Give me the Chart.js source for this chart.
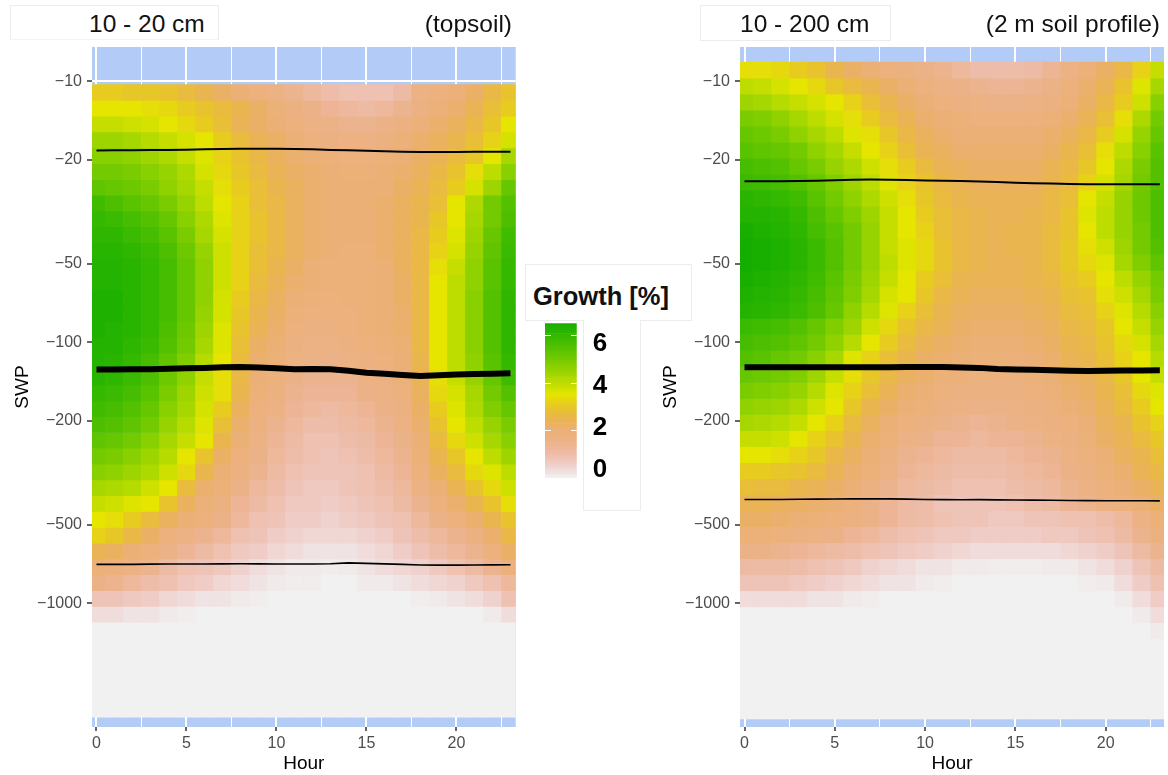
<!DOCTYPE html>
<html lang="en">
  <head>
    <meta charset="UTF-8" />
    <title>Growth by hour and SWP</title>
    <script src="https://cdn.jsdelivr.net/npm/chart.js"></script>
    <style>
      html, body { margin: 0; padding: 0; background: #fff; }
      body { position: relative; width: 1168px; height: 775px; overflow: hidden; font-family: "Liberation Sans", sans-serif; }
      canvas { position: absolute; top: 0; filter: blur(0.4px); }
      .box { position: absolute; background: #fff; border: 1px solid #ececec; box-sizing: border-box; }
      .label { position: absolute; color: #111; font-size: 24.5px; line-height: 30px; top: 9px; white-space: nowrap; }
    </style>
  </head>
  <body>
    <canvas id="leftChart" width="530" height="775" style="left: 0"></canvas>
    <canvas id="rightChart" width="520" height="775" style="left: 648px"></canvas>

    <div class="box" style="left: 10px; top: 5px; width: 209px; height: 35px; border-bottom-color: #f3f3f3"></div>
    <div class="box" style="left: 700px; top: 5px; width: 191px; height: 36px"></div>
    <div class="label" style="left: 89px">10 - 20 cm</div>
    <div class="label" style="right: 656px">(topsoil)</div>
    <div class="label" style="left: 740px">10 - 200 cm</div>
    <div class="label" style="right: 8px">(2 m soil profile)</div>

    <div class="box" style="left: 525px; top: 264px; width: 167px; height: 57px"></div>
    <div class="label" style="left: 533px; top: 281px; font-size: 25.5px; font-weight: bold">Growth [%]</div>
    <div class="box" style="left: 583px; top: 320px; width: 58px; height: 191px; border-top: 0"></div>
    <canvas id="legendChart" width="100" height="775" style="left: 545px"></canvas>

    <script>
      const hours = [0, 1, 2, 3, 4, 5, 6, 7, 8, 9, 10, 11, 12, 13, 14, 15, 16, 17, 18, 19, 20, 21, 22, 23];
      const swpTicks = [10, 20, 50, 100, 200, 500, 1000];
      const hourTicks = [0, 2.5, 5, 7.5, 10, 12.5, 15, 17.5, 20, 22.5];

      // SWP edges of the rows (sign dropped, log axis), top row first
      const topsoilEdges = [10.3, 11.83, 13.61, 15.64, 17.98, 20.67, 23.77, 27.32, 31.4, 36.1, 41.5, 47.7, 54.9, 63.1, 72.5, 83.4, 95.9, 110.2, 126.7, 145.6, 167.4, 192.5, 221.3, 254.4, 292.4, 336.2, 386.5, 444.4, 510.9, 587.2, 675.2, 776.2, 892.4, 1025.9, 1179.3, 1356, 1559, 1792, 2060, 2368, 2723];
      const profileEdges = [8.44, 9.72, 11.19, 12.89, 14.85, 17.1, 19.7, 22.68, 26.13, 30.09, 34.66, 39.92, 45.98, 52.97, 61, 70.26, 80.93, 93.2, 107.4, 123.6, 142.4, 164, 188.9, 217.6, 250.6, 288.6, 332.5, 382.9, 441.1, 508, 585.2, 674, 776.2, 894, 1030, 1186, 1366, 1573, 1812, 2087, 2404, 2769];

      // growth [%], one row per SWP bin, hours 0-23
      const topsoilGrowth = [
        [3.1,3.1,3.0,3.0,2.9,2.7,2.5,2.2,2.0,1.8,1.6,1.4,1.2,1.0,0.9,0.9,0.9,1.1,1.6,1.8,1.9,2.2,2.6,2.9],
        [3.5,3.5,3.5,3.4,3.3,3.1,2.9,2.7,2.5,2.2,1.9,1.7,1.5,1.3,1.2,1.1,1.2,1.4,1.7,1.9,2.1,2.4,2.8,3.1],
        [3.9,3.9,3.8,3.7,3.5,3.3,3.1,2.8,2.4,2.2,2.0,1.8,1.6,1.5,1.4,1.4,1.5,1.7,1.9,2.1,2.3,2.6,3.0,3.5],
        [4.4,4.4,4.3,4.1,3.9,3.7,3.5,3.1,2.7,2.4,2.2,2.0,1.8,1.7,1.6,1.6,1.7,1.9,2.1,2.3,2.5,2.8,3.2,3.7],
        [4.7,4.7,4.6,4.4,4.2,3.9,3.6,3.2,2.9,2.6,2.3,2.1,2.0,1.9,1.8,1.8,1.9,2.0,2.2,2.4,2.7,3.0,3.5,4.3],
        [5.0,5.0,4.9,4.7,4.5,4.2,3.7,3.3,3.0,2.7,2.4,2.2,2.1,2.0,1.9,1.9,2.0,2.1,2.3,2.6,2.9,3.4,4.0,4.7],
        [5.3,5.2,5.1,4.9,4.6,4.3,3.9,3.4,3.1,2.8,2.5,2.3,2.1,2.0,2.0,2.0,2.0,2.2,2.4,2.7,3.1,3.7,4.4,5.2],
        [5.8,5.6,5.4,5.2,4.9,4.5,4.0,3.5,3.2,2.8,2.6,2.3,2.1,2.0,2.0,2.0,2.1,2.3,2.5,2.8,3.5,4.2,5.0,5.5],
        [6.0,5.9,5.7,5.5,5.2,4.7,4.2,3.6,3.2,2.9,2.6,2.3,2.1,2.0,2.0,2.0,2.1,2.3,2.5,3.0,3.5,4.3,5.0,5.6],
        [6.1,6.1,5.9,5.7,5.4,4.9,4.3,3.7,3.2,2.9,2.6,2.3,2.1,2.0,2.0,2.0,2.1,2.3,2.6,3.1,3.6,4.4,5.2,5.8],
        [6.2,6.2,6.1,5.9,5.6,5.1,4.5,3.8,3.2,2.8,2.6,2.3,2.1,2.0,1.9,1.9,2.1,2.3,2.6,3.2,3.7,4.5,5.3,5.9],
        [6.3,6.3,6.2,6.0,5.7,5.2,4.6,3.8,3.2,2.8,2.5,2.2,2.0,1.9,1.9,1.9,2.0,2.3,2.6,3.4,3.9,4.6,5.4,6.0],
        [6.3,6.3,6.2,6.0,5.7,5.2,4.6,3.8,3.2,2.7,2.4,2.1,2.0,1.9,1.9,1.9,2.0,2.2,2.6,3.5,4.0,4.6,5.4,6.0],
        [6.4,6.4,6.2,6.0,5.7,5.2,4.6,3.7,3.1,2.6,2.3,2.0,1.9,1.8,1.9,1.9,2.0,2.2,2.6,3.5,4.0,4.7,5.5,6.1],
        [6.4,6.4,6.2,6.0,5.7,5.2,4.5,3.7,3.0,2.5,2.2,1.9,1.8,1.8,1.8,1.9,2.0,2.1,2.6,3.5,4.0,4.7,5.5,6.1],
        [6.4,6.3,6.2,6.0,5.6,5.1,4.4,3.6,2.9,2.4,2.1,1.8,1.7,1.7,1.8,1.9,2.0,2.1,2.6,3.5,4.0,4.7,5.5,6.1],
        [6.3,6.3,6.1,5.9,5.5,5.0,4.3,3.6,2.8,2.2,2.0,1.7,1.6,1.6,1.7,1.8,1.9,2.0,2.6,3.5,4.0,4.7,5.5,6.1],
        [6.3,6.2,6.0,5.7,5.3,4.8,4.1,3.5,2.7,2.1,1.9,1.6,1.5,1.5,1.6,1.7,1.8,2.0,2.5,3.5,4.0,4.6,5.4,6.0],
        [6.2,6.1,5.9,5.6,5.1,4.6,3.9,3.4,2.6,2.0,1.8,1.5,1.4,1.4,1.4,1.6,1.7,1.9,2.4,3.4,3.9,4.5,5.2,5.8],
        [6.0,5.9,5.7,5.4,4.9,4.4,3.8,3.4,2.5,1.9,1.7,1.4,1.3,1.3,1.3,1.5,1.6,1.8,2.3,3.3,3.7,4.3,5.0,5.5],
        [5.8,5.7,5.5,5.2,4.7,4.3,3.7,3.1,2.3,1.8,1.6,1.3,1.2,1.1,1.2,1.3,1.5,1.7,2.2,3.1,3.6,4.2,4.8,5.2],
        [5.6,5.5,5.3,5.0,4.5,4.1,3.6,2.8,2.1,1.7,1.4,1.2,1.0,1.0,1.1,1.2,1.4,1.6,2.1,2.9,3.5,4.0,4.5,4.9],
        [5.3,5.2,5.0,4.7,4.3,3.9,3.5,2.5,2.0,1.6,1.3,1.1,0.9,0.9,1.0,1.1,1.3,1.5,2.0,2.7,3.3,3.8,4.3,4.7],
        [5.0,4.9,4.7,4.4,4.1,3.5,2.9,2.2,1.8,1.5,1.2,1.0,0.9,0.8,0.9,1.0,1.2,1.4,1.9,2.5,3.0,3.5,4.0,4.4],
        [4.7,4.6,4.4,4.2,3.8,3.3,2.5,2.0,1.7,1.4,1.1,0.9,0.8,0.8,0.8,0.9,1.1,1.3,1.8,2.3,2.7,3.3,3.6,4.0],
        [4.3,4.2,4.1,3.8,3.5,2.7,2.1,1.9,1.5,1.2,1.0,0.8,0.7,0.7,0.8,0.9,1.0,1.2,1.6,2.0,2.4,2.9,3.3,3.8],
        [3.9,3.8,3.6,3.5,2.9,2.3,1.9,1.7,1.3,1.1,0.9,0.7,0.7,0.6,0.7,0.8,0.9,1.1,1.4,1.8,2.1,2.5,2.9,3.4],
        [3.5,3.4,3.1,2.7,2.3,2.0,1.8,1.5,1.2,0.9,0.8,0.6,0.6,0.5,0.6,0.7,0.8,0.9,1.2,1.5,1.8,2.1,2.5,2.9],
        [3.2,3.0,2.6,2.2,1.8,1.6,1.4,1.2,0.9,0.8,0.6,0.5,0.4,0.4,0.4,0.5,0.6,0.8,1.0,1.2,1.4,1.7,2.1,2.6],
        [2.4,2.3,2.0,1.8,1.5,1.3,1.1,0.9,0.7,0.6,0.4,0.3,0.2,0.2,0.2,0.3,0.4,0.6,0.8,1.0,1.2,1.4,1.8,2.2],
        [1.9,1.8,1.6,1.4,1.1,0.9,0.8,0.7,0.5,0.3,0.2,0.1,0.1,0.05,0.1,0.2,0.3,0.4,0.5,0.7,0.9,1.1,1.4,1.8],
        [1.5,1.4,1.2,1.0,0.9,0.7,0.6,0.4,0.3,0.2,0.1,0.05,0.05,0,0,0.1,0.1,0.2,0.3,0.4,0.5,0.7,0.9,1.2],
        [0.8,0.8,0.7,0.6,0.4,0.3,0.2,0.2,0.1,0.05,0,0,0,0,0,0,0,0,0.05,0.1,0.2,0.3,0.5,0.9],
        [0.3,0.3,0.2,0.2,0.1,0.05,0,0,0,0,0,0,0,0,0,0,0,0,0,0,0,0,0.1,0.3],
        [0,0,0,0,0,0,0,0,0,0,0,0,0,0,0,0,0,0,0,0,0,0,0,0],
        [0,0,0,0,0,0,0,0,0,0,0,0,0,0,0,0,0,0,0,0,0,0,0,0],
        [0,0,0,0,0,0,0,0,0,0,0,0,0,0,0,0,0,0,0,0,0,0,0,0],
        [0,0,0,0,0,0,0,0,0,0,0,0,0,0,0,0,0,0,0,0,0,0,0,0],
        [0,0,0,0,0,0,0,0,0,0,0,0,0,0,0,0,0,0,0,0,0,0,0,0],
        [0,0,0,0,0,0,0,0,0,0,0,0,0,0,0,0,0,0,0,0,0,0,0,0],
      ];

      const profileGrowth = [
        [3.4,3.4,3.3,3.1,2.9,2.5,2.2,2.0,1.8,1.7,1.5,1.4,1.2,1.0,1.0,1.0,1.1,1.3,1.6,1.9,2.2,2.6,3.2,3.9],
        [4.0,3.9,3.7,3.5,3.3,3.0,2.7,2.5,2.2,2.0,1.8,1.6,1.5,1.4,1.3,1.3,1.4,1.5,1.8,2.1,2.4,2.9,3.6,4.3],
        [4.4,4.3,4.1,3.9,3.7,3.5,3.2,2.8,2.5,2.2,2.0,1.8,1.7,1.6,1.5,1.5,1.6,1.7,1.9,2.2,2.6,3.1,3.8,4.7],
        [4.9,4.8,4.6,4.3,4.0,3.7,3.4,3.1,2.7,2.4,2.1,2.0,1.9,1.8,1.8,1.8,1.8,1.9,2.1,2.4,2.8,3.4,4.2,5.0],
        [5.2,5.1,4.9,4.6,4.3,4.0,3.6,3.4,3.0,2.6,2.3,2.1,2.0,2.0,2.0,2.0,2.0,2.1,2.3,2.6,3.1,3.7,4.5,5.2],
        [5.4,5.3,5.2,5.0,4.6,4.3,3.9,3.5,3.2,2.8,2.4,2.3,2.1,2.1,2.1,2.1,2.1,2.2,2.5,2.8,3.4,4.0,4.7,5.4],
        [5.7,5.6,5.5,5.2,4.9,4.5,4.2,3.8,3.4,3.1,2.7,2.4,2.3,2.2,2.2,2.2,2.2,2.4,2.6,3.0,3.5,4.2,4.9,5.5],
        [5.9,5.8,5.7,5.5,5.2,4.8,4.4,4.0,3.6,3.2,2.9,2.6,2.4,2.3,2.3,2.3,2.3,2.5,2.7,3.2,3.7,4.3,5.0,5.5],
        [6.2,6.1,6.0,5.8,5.4,5.0,4.6,4.2,3.8,3.4,3.0,2.7,2.5,2.4,2.4,2.4,2.4,2.6,2.8,3.5,3.9,4.5,5.1,5.6],
        [6.3,6.3,6.2,6.0,5.6,5.2,4.8,4.4,3.9,3.5,3.1,2.8,2.6,2.5,2.4,2.4,2.5,2.6,2.9,3.6,4.0,4.5,5.1,5.6],
        [6.5,6.4,6.3,6.1,5.7,5.4,5.0,4.5,3.9,3.5,3.2,2.8,2.6,2.5,2.4,2.5,2.5,2.7,2.9,3.5,4.0,4.5,5.0,5.6],
        [6.6,6.5,6.4,6.2,5.9,5.5,5.0,4.5,3.9,3.6,3.3,2.9,2.6,2.5,2.4,2.5,2.5,2.7,3.0,3.4,3.8,4.4,5.0,5.5],
        [6.6,6.5,6.4,6.2,5.9,5.5,5.0,4.5,4.0,3.6,3.3,2.9,2.6,2.5,2.4,2.4,2.5,2.7,3.0,3.3,3.6,4.3,4.8,5.3],
        [6.5,6.4,6.3,6.1,5.8,5.4,4.9,4.4,3.9,3.5,3.1,2.8,2.5,2.4,2.4,2.4,2.5,2.6,2.9,3.1,3.5,4.0,4.5,5.0],
        [6.4,6.3,6.2,6.0,5.7,5.3,4.8,4.3,3.7,3.5,3.0,2.6,2.4,2.3,2.3,2.3,2.4,2.5,2.8,2.9,3.4,3.8,4.3,4.9],
        [6.3,6.2,6.1,5.9,5.6,5.2,4.6,4.1,3.6,3.2,2.8,2.5,2.3,2.2,2.2,2.2,2.3,2.4,2.7,2.8,3.2,3.6,4.1,4.7],
        [5.9,5.8,5.7,5.5,5.2,4.8,4.4,3.8,3.3,2.9,2.6,2.4,2.2,2.1,2.1,2.1,2.2,2.3,2.6,2.7,3.0,3.5,3.9,4.5],
        [5.7,5.6,5.5,5.3,5.0,4.6,4.1,3.5,3.1,2.7,2.4,2.2,2.1,2.0,2.0,2.0,2.1,2.2,2.5,2.6,2.9,3.3,3.7,4.3],
        [5.5,5.4,5.2,5.0,4.7,4.3,3.6,3.2,2.8,2.5,2.2,2.1,2.0,1.9,1.9,1.9,2.0,2.1,2.4,2.5,2.8,3.2,3.5,4.1],
        [5.2,5.1,5.0,4.8,4.4,3.9,3.4,3.0,2.6,2.3,2.1,1.9,1.9,1.8,1.8,1.8,1.9,2.0,2.2,2.3,2.6,3.0,3.5,3.9],
        [4.9,4.8,4.7,4.5,4.1,3.6,3.2,2.8,2.4,2.1,2.0,1.8,1.7,1.7,1.7,1.7,1.8,1.9,2.1,2.2,2.5,2.8,3.3,3.6],
        [4.6,4.5,4.4,4.2,3.8,3.5,3.0,2.5,2.2,2.0,1.9,1.7,1.6,1.5,1.5,1.6,1.7,1.8,2.0,2.1,2.4,2.7,3.1,3.5],
        [4.3,4.2,4.1,3.9,3.5,3.2,2.7,2.3,2.0,1.8,1.7,1.5,1.4,1.3,1.4,1.5,1.6,1.7,1.8,2.0,2.3,2.5,2.9,3.2],
        [3.9,3.9,3.8,3.5,3.2,2.9,2.5,2.1,1.9,1.6,1.5,1.3,1.3,1.2,1.3,1.3,1.4,1.6,1.7,1.9,2.2,2.4,2.7,3.0],
        [3.5,3.5,3.4,3.2,3.0,2.6,2.3,2.0,1.7,1.4,1.3,1.2,1.1,1.1,1.1,1.2,1.3,1.4,1.6,1.8,2.0,2.3,2.5,2.8],
        [3.1,3.1,3.0,2.9,2.7,2.4,2.1,1.9,1.6,1.3,1.2,1.1,1.0,1.0,1.0,1.1,1.2,1.3,1.5,1.7,1.9,2.1,2.4,2.6],
        [2.8,2.7,2.7,2.5,2.4,2.2,2.0,1.7,1.4,1.2,1.1,1.0,0.9,0.9,0.9,1.0,1.1,1.2,1.4,1.6,1.8,2.0,2.2,2.4],
        [2.4,2.4,2.3,2.2,2.1,2.0,1.8,1.5,1.3,1.1,1.0,0.8,0.8,0.8,0.8,0.9,1.0,1.1,1.3,1.4,1.7,1.8,2.0,2.2],
        [2.2,2.2,2.1,2.0,1.9,1.8,1.7,1.5,1.3,1.1,1.0,0.9,0.8,0.8,0.7,0.7,0.8,0.8,0.9,0.9,1.0,1.2,1.6,1.9],
        [1.9,1.9,1.8,1.7,1.6,1.5,1.3,1.2,1.0,0.9,0.8,0.7,0.7,0.6,0.6,0.6,0.6,0.7,0.7,0.8,0.9,1.1,1.4,1.7],
        [1.5,1.5,1.4,1.3,1.2,1.1,1.0,0.9,0.8,0.7,0.6,0.5,0.4,0.3,0.3,0.3,0.3,0.3,0.4,0.5,0.6,0.8,1.1,1.4],
        [1.1,1.1,1.1,1.0,0.9,0.8,0.7,0.5,0.4,0.3,0.2,0.2,0.1,0.1,0.05,0.05,0.05,0.1,0.1,0.2,0.3,0.5,0.8,1.1],
        [0.8,0.8,0.8,0.7,0.6,0.5,0.4,0.3,0.2,0.2,0.1,0.05,0,0,0,0,0,0,0,0.05,0.1,0.3,0.6,0.9],
        [0.3,0.3,0.3,0.3,0.2,0.2,0.1,0.05,0,0,0,0,0,0,0,0,0,0,0,0,0,0.1,0.3,0.6],
        [0,0,0,0,0,0,0,0,0,0,0,0,0,0,0,0,0,0,0,0,0,0,0.1,0.3],
        [0,0,0,0,0,0,0,0,0,0,0,0,0,0,0,0,0,0,0,0,0,0,0,0.1],
        [0,0,0,0,0,0,0,0,0,0,0,0,0,0,0,0,0,0,0,0,0,0,0,0],
        [0,0,0,0,0,0,0,0,0,0,0,0,0,0,0,0,0,0,0,0,0,0,0,0],
        [0,0,0,0,0,0,0,0,0,0,0,0,0,0,0,0,0,0,0,0,0,0,0,0],
        [0,0,0,0,0,0,0,0,0,0,0,0,0,0,0,0,0,0,0,0,0,0,0,0],
        [0,0,0,0,0,0,0,0,0,0,0,0,0,0,0,0,0,0,0,0,0,0,0,0],
      ];

      // black SWP lines per hour
      const topsoilUpper = [18.39,18.38,18.37,18.34,18.31,18.27,18.21,18.15,18.12,18.12,18.13,18.15,18.21,18.31,18.37,18.44,18.53,18.6,18.65,18.66,18.65,18.63,18.63,18.63];
      const topsoilMiddle = [126.9,126.9,126.8,126.7,126.3,125.7,125.2,124.4,124.3,124.9,125.7,126.7,126.4,126.6,128.3,130.6,131.8,133.2,134.4,133.6,132.6,132.2,131.8,131.4];
      const topsoilLower = [708.5,708.5,708,707,706,705.5,705.5,705,704.5,705,706,706,705.5,704,699,702,705,708,712,713,713,712,711.5,711];
      const profileUpper = [24.17,24.16,24.14,24.1,24.02,23.93,23.85,23.8,23.83,23.9,23.96,24.02,24.1,24.18,24.32,24.44,24.55,24.63,24.72,24.79,24.8,24.8,24.8,24.8];
      const profileMiddle = [124.5,124.5,124.5,124.5,124.5,124.5,124.4,124.4,124.4,124.3,124.2,124.3,124.7,125.2,126.5,127,127.4,127.9,128.3,128.6,128.5,128.2,128,127.8];
      const profileLower = [399.8,399.5,399.5,399,398.5,398,397.6,397.4,397.6,398.5,399.5,400,400.5,400.2,401,401.5,402,402.5,403,403.5,404,404,404.3,404.4];

      const legendBreaks = [0, 0.05, 0.1, 0.15, 0.2, 0.3, 0.4, 0.5, 0.6, 0.7, 0.8, 0.9, 1, 1.1, 1.2, 1.3, 1.4, 1.5, 1.6, 1.7, 1.8, 1.9, 2, 2.1, 2.2, 2.3, 2.4, 2.5, 2.6, 2.7, 2.8, 2.9, 3, 3.1, 3.2, 3.3, 3.4, 3.5, 3.6, 3.7, 3.8, 3.9, 4, 4.1, 4.2, 4.3, 4.4, 4.5, 4.6, 4.7, 4.8, 4.9, 5, 5.1, 5.2, 5.3, 5.4, 5.5, 5.6, 5.7, 5.8, 5.9, 6, 6.1, 6.2, 6.3, 6.4, 6.53];
      const legendLabels = [0, 2, 4, 6];
      const legendMarks = [2, 4, 6];

      const FONT = "'Liberation Sans', sans-serif";
      const PANEL_BLUE = "#b3ccf7";

      // terrain.colors style ramp: grey -> orange -> yellow -> green, hsv interpolated
      function growthColor(v) {
        let t;
        if (v <= 1.5) t = v / 3.5;
        else if (v <= 2) t = 0.4286 + (v - 1.5) * 0.1428;
        else if (v <= 3.5) t = 0.5 + (v - 2) / 3;
        else t = Math.min(v / 3.5, 2);
        let h, s, val;
        if (t <= 1) {
          h = 60 * t; s = t; val = 0.945 - 0.045 * t;
        } else {
          h = 60 + 60 * (t - 1); s = 1; val = 0.9 - 0.25 * (t - 1);
        }
        const f = (n) => {
          const k = (n + h / 60) % 6;
          return Math.round(255 * (val - val * s * Math.max(0, Math.min(k, 4 - k, 1))));
        };
        return `rgb(${f(5)},${f(3)},${f(1)})`;
      }

      const panelBackground = {
        id: "panelBackground",
        beforeDraw(chart) {
          const { ctx, chartArea: a } = chart;
          ctx.save();
          ctx.fillStyle = PANEL_BLUE;
          ctx.fillRect(a.left, a.top, a.right - a.left, a.bottom - a.top);
          ctx.restore();
        },
      };

      function lineSet(values, width) {
        return {
          type: "line",
          data: values.map((v, i) => ({ x: hours[i], y: v })),
          borderColor: "#000",
          borderWidth: width,
          pointRadius: 0,
          tension: 0,
          borderCapStyle: "butt",
        };
      }

      function panel(canvasId, edges, growth, lines, xMin, xMax, rightPad) {
        const rows = growth.map((row, r) => ({
          type: "bar",
          data: row.map((v, i) => ({ x: hours[i], y: [edges[r], edges[r + 1]] })),
          backgroundColor: row.map(growthColor),
          borderWidth: 0,
          grouped: false,
          barPercentage: 1,
          categoryPercentage: 1,
        }));
        return new Chart(document.getElementById(canvasId), {
          type: "bar",
          data: { datasets: [...lines, ...rows] },
          plugins: [panelBackground],
          options: {
            responsive: false,
            animation: false,
            layout: { padding: { top: 47, right: rightPad, left: 0, bottom: 0 } },
            plugins: { legend: { display: false }, tooltip: { enabled: false } },
            scales: {
              x: {
                type: "linear",
                offset: false,
                min: xMin,
                max: xMax,
                afterBuildTicks: (s) => { s.ticks = hourTicks.map((v) => ({ value: v })); },
                afterFit: (s) => { s.height = 48; },
                border: { display: false },
                grid: {
                  offset: false,
                  color: "#fff",
                  lineWidth: (c) => (c.tick && c.tick.value % 5 === 0 ? 2 : 1),
                  tickColor: (c) => (c.tick && c.tick.value % 5 === 0 ? "#333" : "rgba(0,0,0,0)"),
                  tickWidth: 1.5,
                  tickLength: 4,
                },
                ticks: {
                  autoSkip: false,
                  maxRotation: 0,
                  padding: 3,
                  color: "#4d4d4d",
                  font: { family: FONT, size: 16 },
                  callback: (v) => (v % 5 === 0 ? String(v) : ""),
                },
                title: { display: true, text: "Hour", color: "#000", padding: 0, font: { family: FONT, size: 19 } },
              },
              y: {
                type: "logarithmic",
                reverse: true,
                min: 7.39,
                max: 2972,
                afterBuildTicks: (s) => { s.ticks = swpTicks.map((v) => ({ value: v })); },
                afterFit: (s) => { s.width = 92; },
                border: { display: false },
                grid: { color: (c) => (c.tick && c.tick.value === 10 ? "#fff" : "rgba(0,0,0,0)"), lineWidth: 2, tickColor: "#333", tickWidth: 1.5, tickLength: 5 },
                ticks: {
                  autoSkip: false,
                  padding: 5,
                  color: "#4d4d4d",
                  font: { family: FONT, size: 16 },
                  callback: (v) => "\u2212" + v,
                },
                title: { display: true, text: "SWP", color: "#000", padding: { top: 11, bottom: 0 }, font: { family: FONT, size: 19 } },
              },
            },
          },
        });
      }

      panel("leftChart", topsoilEdges, topsoilGrowth, [lineSet(topsoilUpper, 2), lineSet(topsoilMiddle, 6), lineSet(topsoilLower, 1.6)], -0.25, 23.29, 14.3);
      panel("rightChart", profileEdges, profileGrowth, [lineSet(profileUpper, 2), lineSet(profileMiddle, 6), lineSet(profileLower, 1.6)], -0.25, 23.23, 4);

      new Chart(document.getElementById("legendChart"), {
        type: "bar",
        data: {
          labels: [""],
          datasets: legendBreaks.slice(1).map((hi, i) => ({
            data: [[legendBreaks[i], hi]],
            backgroundColor: growthColor((legendBreaks[i] + hi) / 2),
            borderWidth: 0,
            grouped: false,
            barPercentage: 1,
            categoryPercentage: 1,
          })),
        },
        options: {
          responsive: false,
          animation: false,
          layout: { padding: { top: 323.3, bottom: 297, left: 0, right: 0 } },
          plugins: { legend: { display: false }, tooltip: { enabled: false } },
          scales: {
            x: { display: false },
            y: {
              min: 0,
              max: 6.53,
              afterBuildTicks: (s) => { s.ticks = legendMarks.map((v) => ({ value: v })); },
              afterFit: (s) => { s.width = 0; },
              border: { display: false, dash: [6, 20, 6, 0] },
              grid: { color: "#fff", z: 1, drawTicks: false },
              ticks: { display: false },
            },
            // printed labels sit on their own spacing in the picture
            labelAxis: {
              type: "linear",
              position: "right",
              min: -0.381,
              max: 6.985,
              afterBuildTicks: (s) => { s.ticks = legendLabels.map((v) => ({ value: v })); },
              afterFit: (s) => { s.width = 68.3; },
              border: { display: false },
              grid: { display: false, drawTicks: false },
              ticks: { padding: 16, color: "#000", font: { family: FONT, size: 26, weight: "bold" } },
            },
          },
        },
      });
    </script>
  </body>
</html>
